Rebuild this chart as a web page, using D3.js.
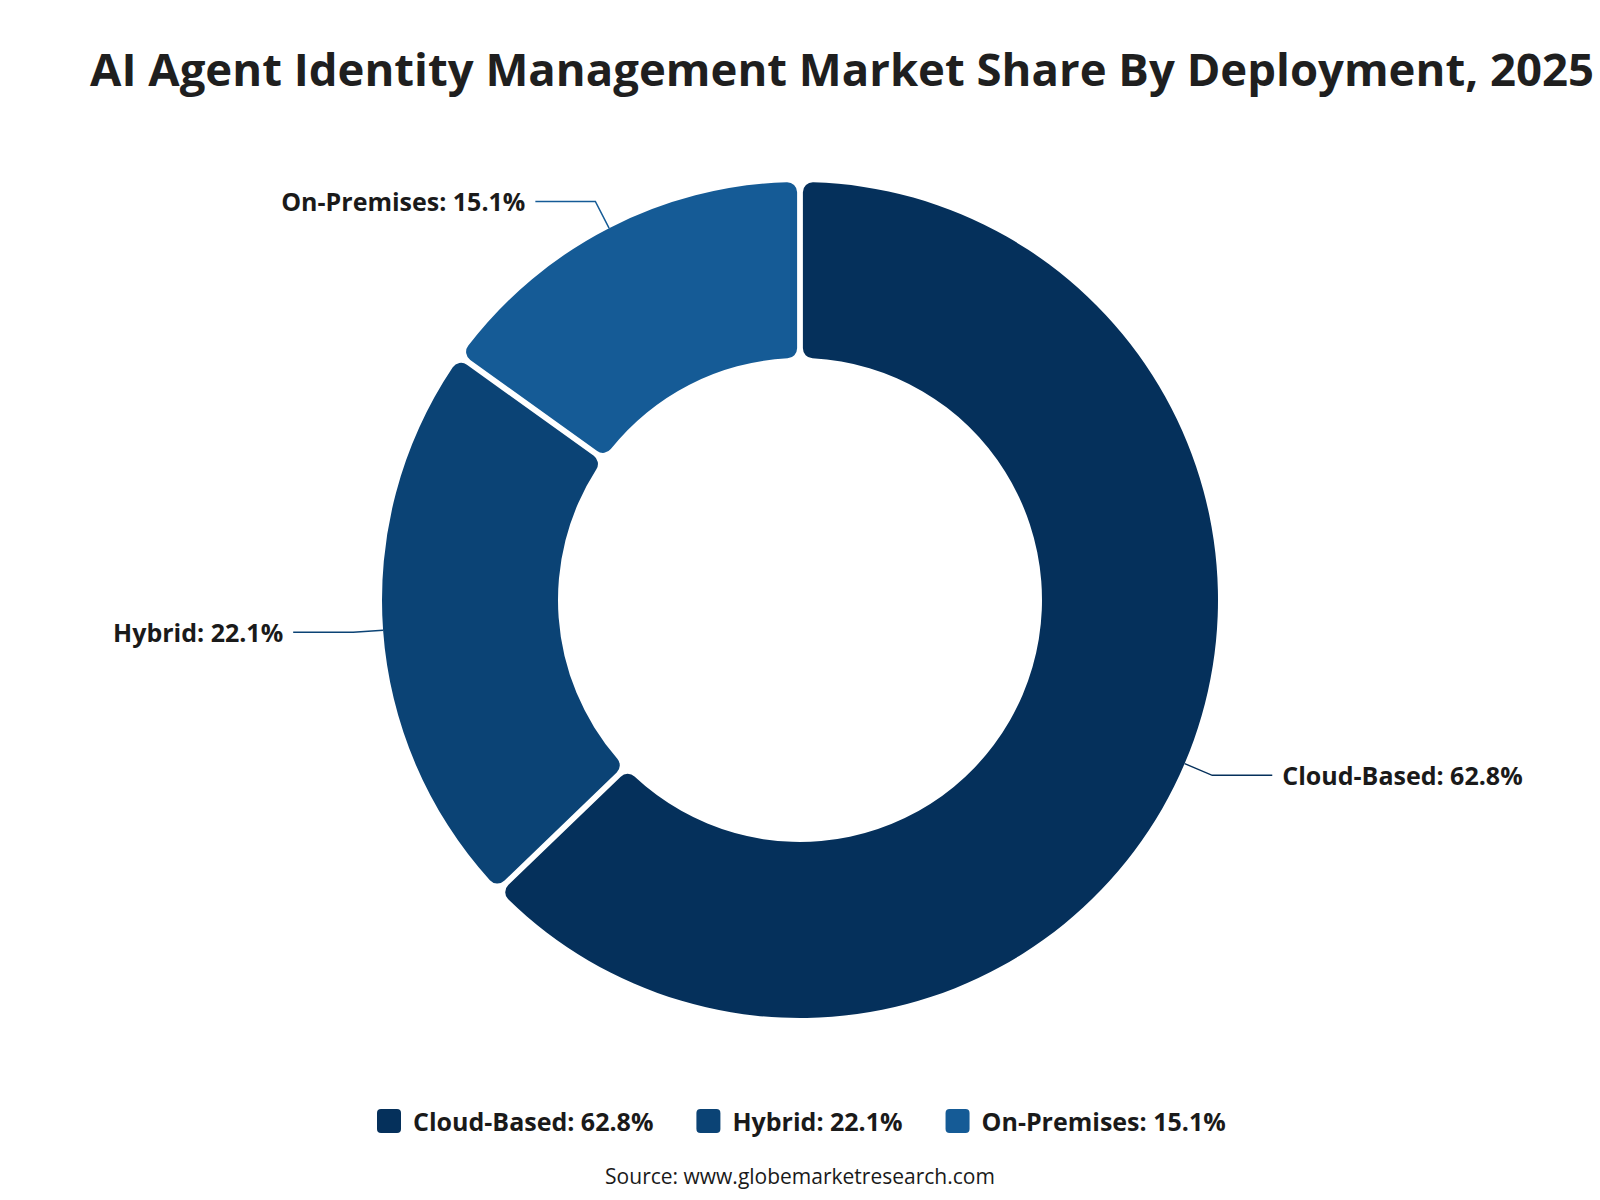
<!DOCTYPE html>
<html>
<head>
<meta charset="utf-8">
<script src="https://cdn.jsdelivr.net/npm/d3@7"></script>
<style>
  html, body { margin: 0; padding: 0; background: #fff; }
  svg text { font-family: "Open Sans", "Noto Sans", sans-serif; }
</style>
</head>
<body>
<div id="chart"></div>
<script>
/* Market share by deployment — donut with leader labels and bottom legend. */

var categories = ["Cloud-Based", "Hybrid", "On-Premises"];
var shares = [62.8, 22.1, 15.1];
var sliceColors = ["#05305b", "#0b4375", "#155b96"];
var title = "AI Agent Identity Management Market Share By Deployment, 2025";
var source = "Source: www.globemarketresearch.com";

var width = 1600, height = 1200;
var cx = 800, cy = 600;
var outerR = 418, innerR = 242;

var data = categories.map(function (c, i) {
  return { name: c, value: shares[i], color: sliceColors[i], label: c + ": " + shares[i].toFixed(1) + "%" };
});

var svg = d3.select("#chart").append("svg")
  .attr("width", width).attr("height", height)
  .attr("viewBox", "0 0 " + width + " " + height);

svg.append("rect").attr("width", width).attr("height", height).attr("fill", "#fff");

svg.append("text")
  .attr("x", 90).attr("y", 86)
  .attr("font-size", 45.5).attr("font-weight", 700)
  .attr("fill", "#1f1f1f")
  .text(title);

var pie = d3.pie().sort(null).value(function (d) { return d.value; });
var arcs = pie(data);

var arc = d3.arc().innerRadius(innerR).outerRadius(outerR)
  .padAngle(0.012).cornerRadius(10);

var g = svg.append("g").attr("transform", "translate(" + cx + "," + cy + ")");

g.selectAll("path.slice").data(arcs).enter().append("path")
  .attr("class", "slice")
  .attr("fill", function (d) { return d.data.color; })
  .attr("d", arc);

/* leader lines: radial stub then horizontal run */
var stub = 30, run = 60, gap = 10;
arcs.forEach(function (d) {
  var a = (d.startAngle + d.endAngle) / 2;
  var sx = Math.sin(a), sy = -Math.cos(a);
  var p0 = [outerR * sx, outerR * sy];
  var p1 = [(outerR + stub) * sx, (outerR + stub) * sy];
  var right = sx >= 0;
  var p2 = [p1[0] + (right ? run : -run), p1[1]];
  g.append("polyline")
    .attr("points", [p0, p1, p2].map(function (p) { return p.join(","); }).join(" "))
    .attr("fill", "none").attr("stroke", d.data.color).attr("stroke-width", 1.5);
  g.append("text")
    .attr("x", p2[0] + (right ? gap : -gap)).attr("y", p2[1])
    .attr("text-anchor", right ? "start" : "end")
    .attr("dominant-baseline", "central")
    .attr("font-size", 25).attr("font-weight", 700).attr("fill", "#1a1a1a")
    .text(d.data.label);
});

/* legend */
var legend = svg.append("g").attr("transform", "translate(0,1121)");
var lx = 377;
data.forEach(function (d) {
  legend.append("rect")
    .attr("x", lx).attr("y", -12).attr("width", 24).attr("height", 24)
    .attr("rx", 4).attr("fill", d.color);
  var t = legend.append("text")
    .attr("x", lx + 36).attr("y", 0)
    .attr("dominant-baseline", "central")
    .attr("font-size", 25).attr("font-weight", 700).attr("fill", "#1a1a1a")
    .text(d.label);
  lx += 36 + t.node().getComputedTextLength() + 43;
});

svg.append("text")
  .attr("x", 800).attr("y", 1184)
  .attr("text-anchor", "middle")
  .attr("font-size", 21).attr("font-weight", 500).attr("fill", "#1a1a1a")
  .text(source);
</script>
</body>
</html>
